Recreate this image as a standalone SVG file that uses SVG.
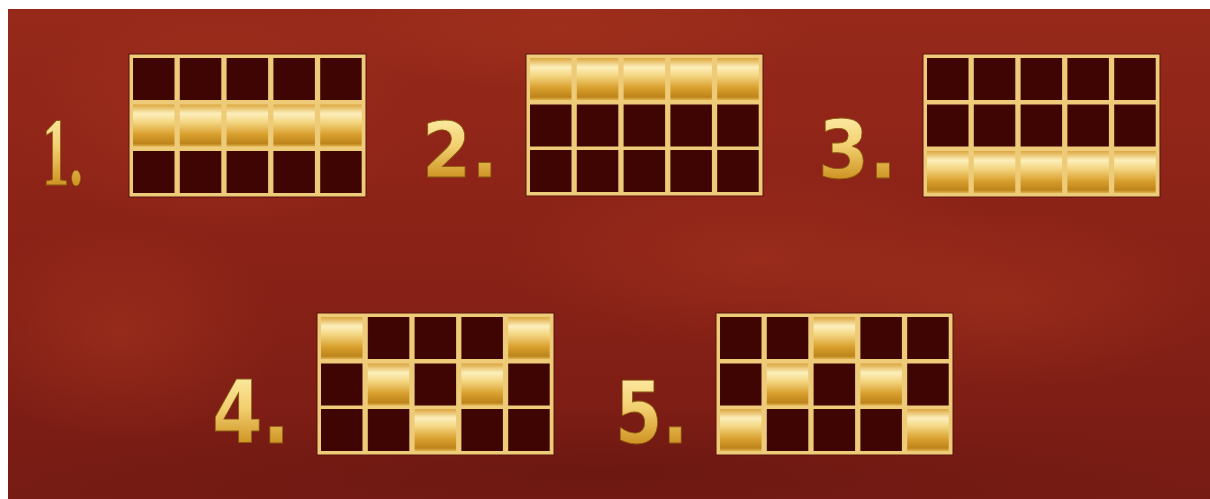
<svg xmlns="http://www.w3.org/2000/svg" width="1210" height="499" viewBox="0 0 1210 499">
<defs>
<clipPath id="bgclip"><rect x="8" y="9" width="1202" height="490"/></clipPath>
<linearGradient id="bg" x1="0" y1="0" x2="0" y2="1">
<stop offset="0" stop-color="#96291a"/>
<stop offset="0.5" stop-color="#8a2217"/>
<stop offset="1" stop-color="#761b14"/>
</linearGradient>
<radialGradient id="glow1" cx="0.5" cy="0.5" r="0.5">
<stop offset="0" stop-color="#a8361f" stop-opacity="0.5"/>
<stop offset="1" stop-color="#a8361f" stop-opacity="0"/>
</radialGradient>
<radialGradient id="shade" cx="0.5" cy="0.5" r="0.5">
<stop offset="0" stop-color="#5e140e" stop-opacity="0.45"/>
<stop offset="1" stop-color="#5e140e" stop-opacity="0"/>
</radialGradient>
<linearGradient id="gold" x1="0" y1="0" x2="0" y2="1">
<stop offset="0" stop-color="#dca63e"/>
<stop offset="0.22" stop-color="#fcefbb"/>
<stop offset="0.42" stop-color="#f4d682"/>
<stop offset="0.72" stop-color="#d89e2c"/>
<stop offset="0.93" stop-color="#bd841c"/>
<stop offset="1" stop-color="#e0b24c"/>
</linearGradient>
<linearGradient id="txt" x1="0" y1="0" x2="0" y2="1">
<stop offset="0" stop-color="#fff5b8"/>
<stop offset="0.45" stop-color="#f2d070"/>
<stop offset="0.8" stop-color="#cf9424"/>
<stop offset="1" stop-color="#e6bc56"/>
</linearGradient>
<style>
.frame{fill:#eecb78;stroke:#5a120c;stroke-width:1;}
.d{fill:#3e0503;}
.g{fill:url(#gold);}
.lbl{fill:url(#txt);stroke:#8a5a10;stroke-width:0.8;font-weight:bold;}
.sans{font-family:"DejaVu Sans","Liberation Sans",sans-serif;}
.serif{font-family:"Liberation Serif","DejaVu Serif",serif;}
</style>
</defs>
<rect x="0" y="0" width="1210" height="499" fill="#ffffff"/>
<g clip-path="url(#bgclip)">
<rect x="8" y="9" width="1202" height="490" fill="url(#bg)"/>
<ellipse cx="560" cy="30" rx="260" ry="60" fill="url(#glow1)"/>
<ellipse cx="220" cy="110" rx="200" ry="120" fill="url(#glow1)"/>
<ellipse cx="760" cy="260" rx="260" ry="90" fill="url(#glow1)"/>
<ellipse cx="1000" cy="300" rx="220" ry="90" fill="url(#glow1)"/>
<ellipse cx="120" cy="330" rx="160" ry="110" fill="url(#glow1)"/>
<ellipse cx="600" cy="470" rx="600" ry="60" fill="url(#shade)"/>
</g>

<g id="line1">
<text class="lbl serif" x="42" y="185" font-size="98" textLength="41" lengthAdjust="spacingAndGlyphs">1.</text>
<g transform="translate(129,54)">
<rect class="frame" x="0" y="0" width="237" height="143"/>
<rect class="d" x="4" y="4" width="41.5" height="42"/><rect class="d" x="50.8" y="4" width="41.5" height="42"/><rect class="d" x="97.6" y="4" width="41.5" height="42"/><rect class="d" x="144.4" y="4" width="41.5" height="42"/><rect class="d" x="191.2" y="4" width="41.5" height="42"/>
<rect class="g" x="4" y="50.5" width="41.5" height="42"/><rect class="g" x="50.8" y="50.5" width="41.5" height="42"/><rect class="g" x="97.6" y="50.5" width="41.5" height="42"/><rect class="g" x="144.4" y="50.5" width="41.5" height="42"/><rect class="g" x="191.2" y="50.5" width="41.5" height="42"/>
<rect class="d" x="4" y="97" width="41.5" height="42"/><rect class="d" x="50.8" y="97" width="41.5" height="42"/><rect class="d" x="97.6" y="97" width="41.5" height="42"/><rect class="d" x="144.4" y="97" width="41.5" height="42"/><rect class="d" x="191.2" y="97" width="41.5" height="42"/>
</g>
</g>

<g id="line2">
<text class="lbl sans" x="422" y="177" font-size="76" textLength="76" lengthAdjust="spacingAndGlyphs">2.</text>
<g transform="translate(526,54)">
<rect class="frame" x="0" y="0" width="237" height="142"/>
<rect class="g" x="4" y="4" width="41.5" height="42"/><rect class="g" x="50.8" y="4" width="41.5" height="42"/><rect class="g" x="97.6" y="4" width="41.5" height="42"/><rect class="g" x="144.4" y="4" width="41.5" height="42"/><rect class="g" x="191.2" y="4" width="41.5" height="42"/>
<rect class="d" x="4" y="50.5" width="41.5" height="42"/><rect class="d" x="50.8" y="50.5" width="41.5" height="42"/><rect class="d" x="97.6" y="50.5" width="41.5" height="42"/><rect class="d" x="144.4" y="50.5" width="41.5" height="42"/><rect class="d" x="191.2" y="50.5" width="41.5" height="42"/>
<rect class="d" x="4" y="96" width="41.5" height="42"/><rect class="d" x="50.8" y="96" width="41.5" height="42"/><rect class="d" x="97.6" y="96" width="41.5" height="42"/><rect class="d" x="144.4" y="96" width="41.5" height="42"/><rect class="d" x="191.2" y="96" width="41.5" height="42"/>
</g>
</g>

<g id="line3">
<text class="lbl sans" x="818" y="178" font-size="80" textLength="79" lengthAdjust="spacingAndGlyphs">3.</text>
<g transform="translate(923,54)">
<rect class="frame" x="0" y="0" width="237" height="143"/>
<rect class="d" x="4" y="4" width="41.5" height="42"/><rect class="d" x="50.8" y="4" width="41.5" height="42"/><rect class="d" x="97.6" y="4" width="41.5" height="42"/><rect class="d" x="144.4" y="4" width="41.5" height="42"/><rect class="d" x="191.2" y="4" width="41.5" height="42"/>
<rect class="d" x="4" y="50.5" width="41.5" height="42"/><rect class="d" x="50.8" y="50.5" width="41.5" height="42"/><rect class="d" x="97.6" y="50.5" width="41.5" height="42"/><rect class="d" x="144.4" y="50.5" width="41.5" height="42"/><rect class="d" x="191.2" y="50.5" width="41.5" height="42"/>
<rect class="g" x="4" y="97" width="41.5" height="42"/><rect class="g" x="50.8" y="97" width="41.5" height="42"/><rect class="g" x="97.6" y="97" width="41.5" height="42"/><rect class="g" x="144.4" y="97" width="41.5" height="42"/><rect class="g" x="191.2" y="97" width="41.5" height="42"/>
</g>
</g>

<g id="line4">
<text class="lbl sans" x="212" y="443" font-size="88" textLength="78" lengthAdjust="spacingAndGlyphs">4.</text>
<g transform="translate(317,313)">
<rect class="frame" x="0" y="0" width="237" height="142"/>
<rect class="g" x="4" y="4" width="41.5" height="42"/><rect class="d" x="50.8" y="4" width="41.5" height="42"/><rect class="d" x="97.6" y="4" width="41.5" height="42"/><rect class="d" x="144.4" y="4" width="41.5" height="42"/><rect class="g" x="191.2" y="4" width="41.5" height="42"/>
<rect class="d" x="4" y="50.5" width="41.5" height="42"/><rect class="g" x="50.8" y="50.5" width="41.5" height="42"/><rect class="d" x="97.6" y="50.5" width="41.5" height="42"/><rect class="g" x="144.4" y="50.5" width="41.5" height="42"/><rect class="d" x="191.2" y="50.5" width="41.5" height="42"/>
<rect class="d" x="4" y="96" width="41.5" height="42"/><rect class="d" x="50.8" y="96" width="41.5" height="42"/><rect class="g" x="97.6" y="96" width="41.5" height="42"/><rect class="d" x="144.4" y="96" width="41.5" height="42"/><rect class="d" x="191.2" y="96" width="41.5" height="42"/>
</g>
</g>

<g id="line5">
<text class="lbl sans" x="615" y="443" font-size="86" textLength="73" lengthAdjust="spacingAndGlyphs">5.</text>
<g transform="translate(716,313)">
<rect class="frame" x="0" y="0" width="237" height="142"/>
<rect class="d" x="4" y="4" width="41.5" height="42"/><rect class="d" x="50.8" y="4" width="41.5" height="42"/><rect class="g" x="97.6" y="4" width="41.5" height="42"/><rect class="d" x="144.4" y="4" width="41.5" height="42"/><rect class="d" x="191.2" y="4" width="41.5" height="42"/>
<rect class="d" x="4" y="50.5" width="41.5" height="42"/><rect class="g" x="50.8" y="50.5" width="41.5" height="42"/><rect class="d" x="97.6" y="50.5" width="41.5" height="42"/><rect class="g" x="144.4" y="50.5" width="41.5" height="42"/><rect class="d" x="191.2" y="50.5" width="41.5" height="42"/>
<rect class="g" x="4" y="96" width="41.5" height="42"/><rect class="d" x="50.8" y="96" width="41.5" height="42"/><rect class="d" x="97.6" y="96" width="41.5" height="42"/><rect class="d" x="144.4" y="96" width="41.5" height="42"/><rect class="g" x="191.2" y="96" width="41.5" height="42"/>
</g>
</g>

<g id="connectors"></g>
</svg>
